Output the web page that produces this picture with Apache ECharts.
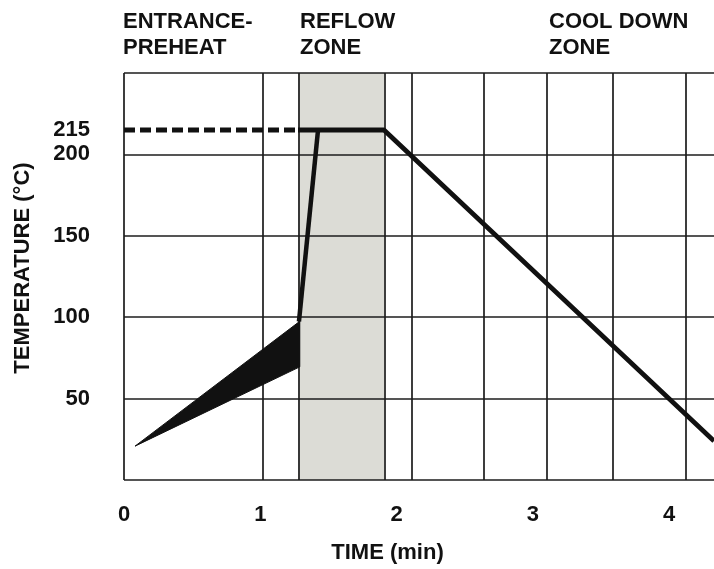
<!DOCTYPE html>
<html>
<head>
<meta charset="utf-8">
<script src="https://cdn.jsdelivr.net/npm/echarts@6/dist/echarts.min.js"></script>
<style>
  html, body { margin: 0; padding: 0; background: #fff; }
  #chart { width: 714px; height: 569px; }
</style>
</head>
<body>
<div id="chart"></div>
<script>
// zone captions above the plot
var zoneNames = ['ENTRANCE-\nPREHEAT', 'REFLOW\nZONE', 'COOL DOWN\nZONE'];
var zoneLeft = [123, 300, 549];

// axis labels
var timeTicks = [0, 1, 2, 3, 4];
var tempTicks = [50, 100, 150, 200, 215];

// grid lines (min / deg C) as drawn in the picture
var gridTimes = [0, 1.022, 1.277, 1.908, 2.111, 2.642, 3.101, 3.586, 4.122];
var gridTemps = [0, 50, 100, 150, 200, 250];

// reflow zone band
var reflowStart = 1.277;
var reflowEnd = 1.908;

// preheat wedge (tip, top right, bottom right)
var wedgeTime = [0.081, 1.29, 1.29];
var wedgeTemp = [20.8, 97.5, 69.5];

// dashed 215 level before reflow
var dashTime = [0, 1.277];
var dashTemp = [215, 215];

// steep rise into reflow
var riseTime = [1.284, 1.424];
var riseTemp = [97.3, 215];

// reflow plateau and cool down
var profileTime = [1.277, 1.908, 4.33];
var profileTemp = [215, 215, 23.9];

var FONT = '"Liberation Sans", Arial, Helvetica, sans-serif';
var INK = '#111';

function pairs(xs, ys) {
  return xs.map(function (x, i) { return [x, ys[i]]; });
}

var chart = echarts.init(document.getElementById('chart'));

var titles = zoneNames.map(function (name, i) {
  return {
    text: name,
    left: zoneLeft[i],
    top: 9,
    padding: 0,
    textStyle: { fontFamily: FONT, fontSize: 22, fontWeight: 'bold', color: INK, lineHeight: 26 }
  };
});

var gridLineData = [];
gridTimes.forEach(function (t) { gridLineData.push({ xAxis: t }); });
gridTemps.forEach(function (v) { gridLineData.push({ yAxis: v }); });

chart.setOption({
  animation: false,
  backgroundColor: '#fff',
  title: titles,
  grid: { left: 124, top: 73, right: 0, bottom: 88 },
  xAxis: {
    type: 'value',
    min: 0,
    max: 4.33,
    interval: 1,
    name: 'TIME (min)',
    nameLocation: 'middle',
    nameGap: 62,
    nameTextStyle: { fontFamily: FONT, fontSize: 22, fontWeight: 'bold', color: INK, padding: [0, 63, 0, 0] },
    axisLine: { show: false },
    axisTick: { show: false },
    splitLine: { show: false },
    axisLabel: {
      customValues: timeTicks,
      margin: 24,
      fontFamily: FONT, fontSize: 22, fontWeight: 'bold', color: INK
    }
  },
  yAxis: {
    type: 'value',
    min: 0,
    max: 250,
    interval: 50,
    name: 'TEMPERATURE (°C)',
    nameLocation: 'middle',
    nameGap: 90,
    nameTextStyle: { fontFamily: FONT, fontSize: 22, fontWeight: 'bold', color: INK, padding: [0, 0, 0, 17] },
    axisLine: { show: false },
    axisTick: { show: false },
    splitLine: { show: false },
    axisLabel: {
      customValues: tempTicks,
      margin: 34,
      fontFamily: FONT, fontSize: 22, fontWeight: 'bold', color: INK
    }
  },
  series: [
    {
      name: 'reflow band',
      type: 'line',
      z: 1,
      silent: true,
      data: [[0, 0]],
      symbol: 'none',
      lineStyle: { opacity: 0 },
      markArea: {
        silent: true,
        itemStyle: { color: '#dcdcd6' },
        data: [[{ xAxis: reflowStart }, { xAxis: reflowEnd }]]
      }
    },
    {
      name: 'grid',
      type: 'line',
      z: 3,
      silent: true,
      data: [],
      markLine: {
        silent: true,
        symbol: ['none', 'none'],
        label: { show: false },
        lineStyle: { type: 'solid', color: '#1c1c1c', width: 1.7 },
        data: gridLineData
      }
    },
    {
      name: 'preheat',
      type: 'custom',
      z: 5,
      silent: true,
      data: pairs(wedgeTime, wedgeTemp),
      encode: { x: 0, y: 1 },
      renderItem: function (params, api) {
        if (params.dataIndex !== 0) return null;
        var pts = wedgeTime.map(function (t, i) { return api.coord([t, wedgeTemp[i]]); });
        return {
          type: 'polygon',
          shape: { points: pts },
          style: { fill: INK, stroke: INK, lineWidth: 1 }
        };
      }
    },
    {
      name: 'dashed',
      type: 'line',
      z: 6,
      data: pairs(dashTime, dashTemp),
      symbol: 'none',
      lineStyle: { color: INK, width: 5, type: [11, 5] }
    },
    {
      name: 'rise',
      type: 'line',
      z: 6,
      data: pairs(riseTime, riseTemp),
      symbol: 'none',
      lineStyle: { color: INK, width: 4.5 }
    },
    {
      name: 'profile',
      type: 'line',
      z: 6,
      data: pairs(profileTime, profileTemp),
      symbol: 'none',
      lineStyle: { color: INK, width: 4.8 }
    }
  ]
});
</script>
</body>
</html>
